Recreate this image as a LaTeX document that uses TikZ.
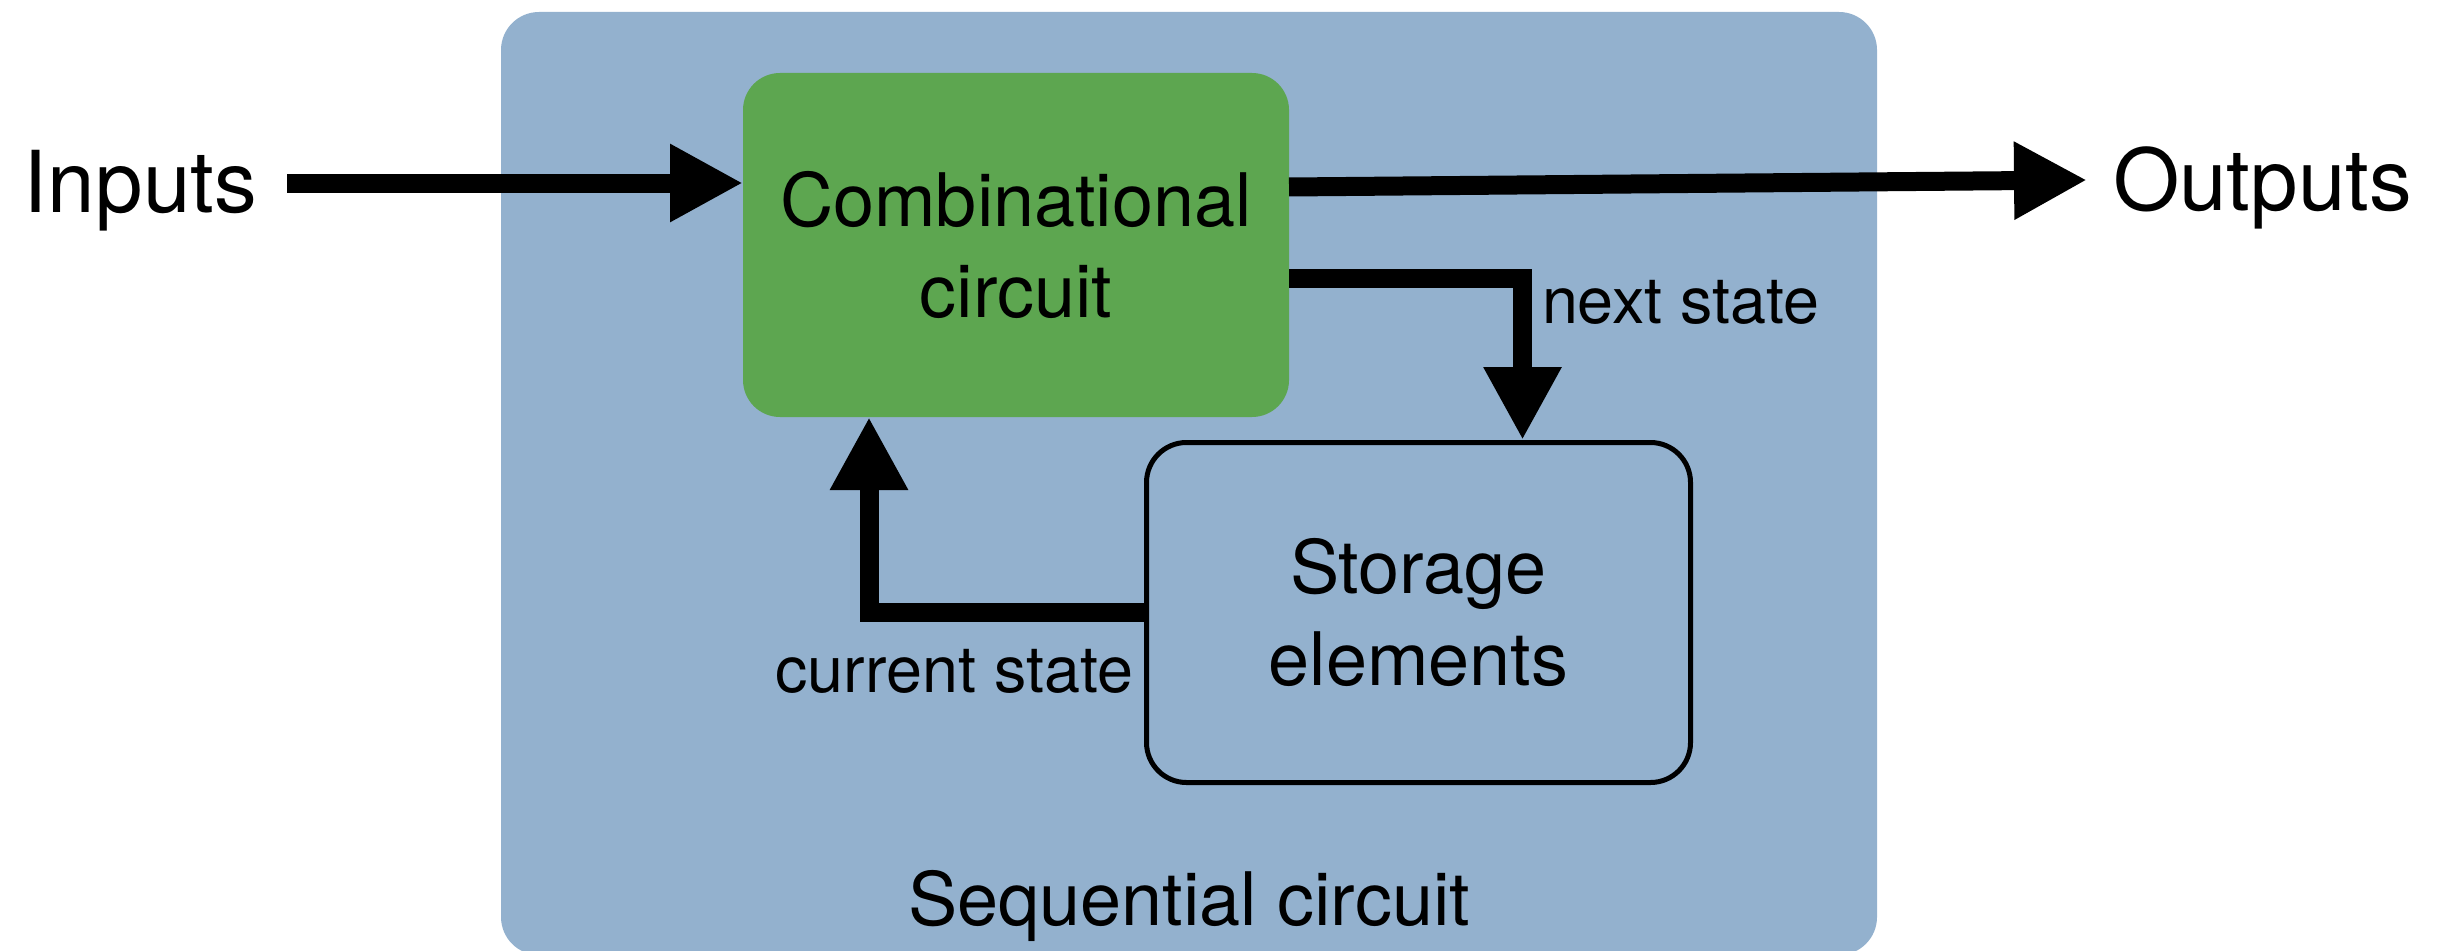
\documentclass[tikz,border=0pt]{standalone}
\usepackage{fontspec}
\setmainfont{TeX Gyre Heros}
\usepackage{tikz}
\usetikzlibrary{arrows.meta}
\usetikzlibrary{calc}

\definecolor{seqblue}{RGB}{147,177,206}
\definecolor{combgreen}{RGB}{93,166,80}

\begin{document}
\begin{tikzpicture}[outer sep=0pt,inner sep=0pt]

	\tikzstyle{every node}=[font=\fontsize{21pt}{26pt}\selectfont]

	\tikzset{block/.style={align=center,shape=rectangle,rounded corners=3.8mm}}

	\tikzset{signal/.style={font=\fontsize{18.4pt}{22pt}\selectfont}}

	\tikzset{port/.style={font=\fontsize{24.3pt}{29pt}\selectfont,text depth=0.08em}}

	\tikzset{flow/.style={line width=1.9mm,-{Triangle[length=7.3mm,width=7.3mm]}}}

	\useasboundingbox (0,0) rectangle (24.52,-9.50);

	% Outer box of the whole sequential circuit.
	\node (seq) [block,fill=seqblue,minimum width=13.76cm,minimum height=9.43cm] at (11.89,-4.835) {};
	\node (seqlabel) [anchor=base] at ([yshift=3mm]seq.south) {Sequential circuit};

	% Combinational part and the storage elements inside it.
	\node (comb) [block,fill=combgreen,minimum width=5.46cm,minimum height=3.44cm,rounded corners=3.7mm] at (10.16,-2.45) {Combinational\\circuit};
	\node (storage) [block,draw=black,line width=0.5mm,outer sep=0.25mm,minimum width=5.44cm,minimum height=3.40cm,rounded corners=4mm] at (14.185,-6.125) {Storage\\elements};

	% Inputs and outputs on both sides.
	\node (inputs) [port,anchor=east,inner xsep=3mm] at (2.87,-1.83) {Inputs};
	\node (outputs) [port,anchor=west,inner xsep=2.6mm] at (20.87,-1.80) {Outputs};

	% State labels beside the feedback lines.
	\node (next) [signal,anchor=base west] at (15.42,-3.23) {next state};
	\node (current) [signal,anchor=base east] at (11.33,-6.92) {current state};

	% Data flow through the circuit.
	\draw [flow] (inputs.east) -- (inputs.east -| comb.west);
	\draw [flow] ([yshift=5.8mm]comb.east) -- (outputs.west);
	\draw [flow] ([yshift=-3.3mm]comb.east) -| ([xshift=1.04cm]storage.north);
	\draw [flow] (storage.west) -| ([xshift=-1.47cm]comb.south);
\end{tikzpicture}
\end{document}
